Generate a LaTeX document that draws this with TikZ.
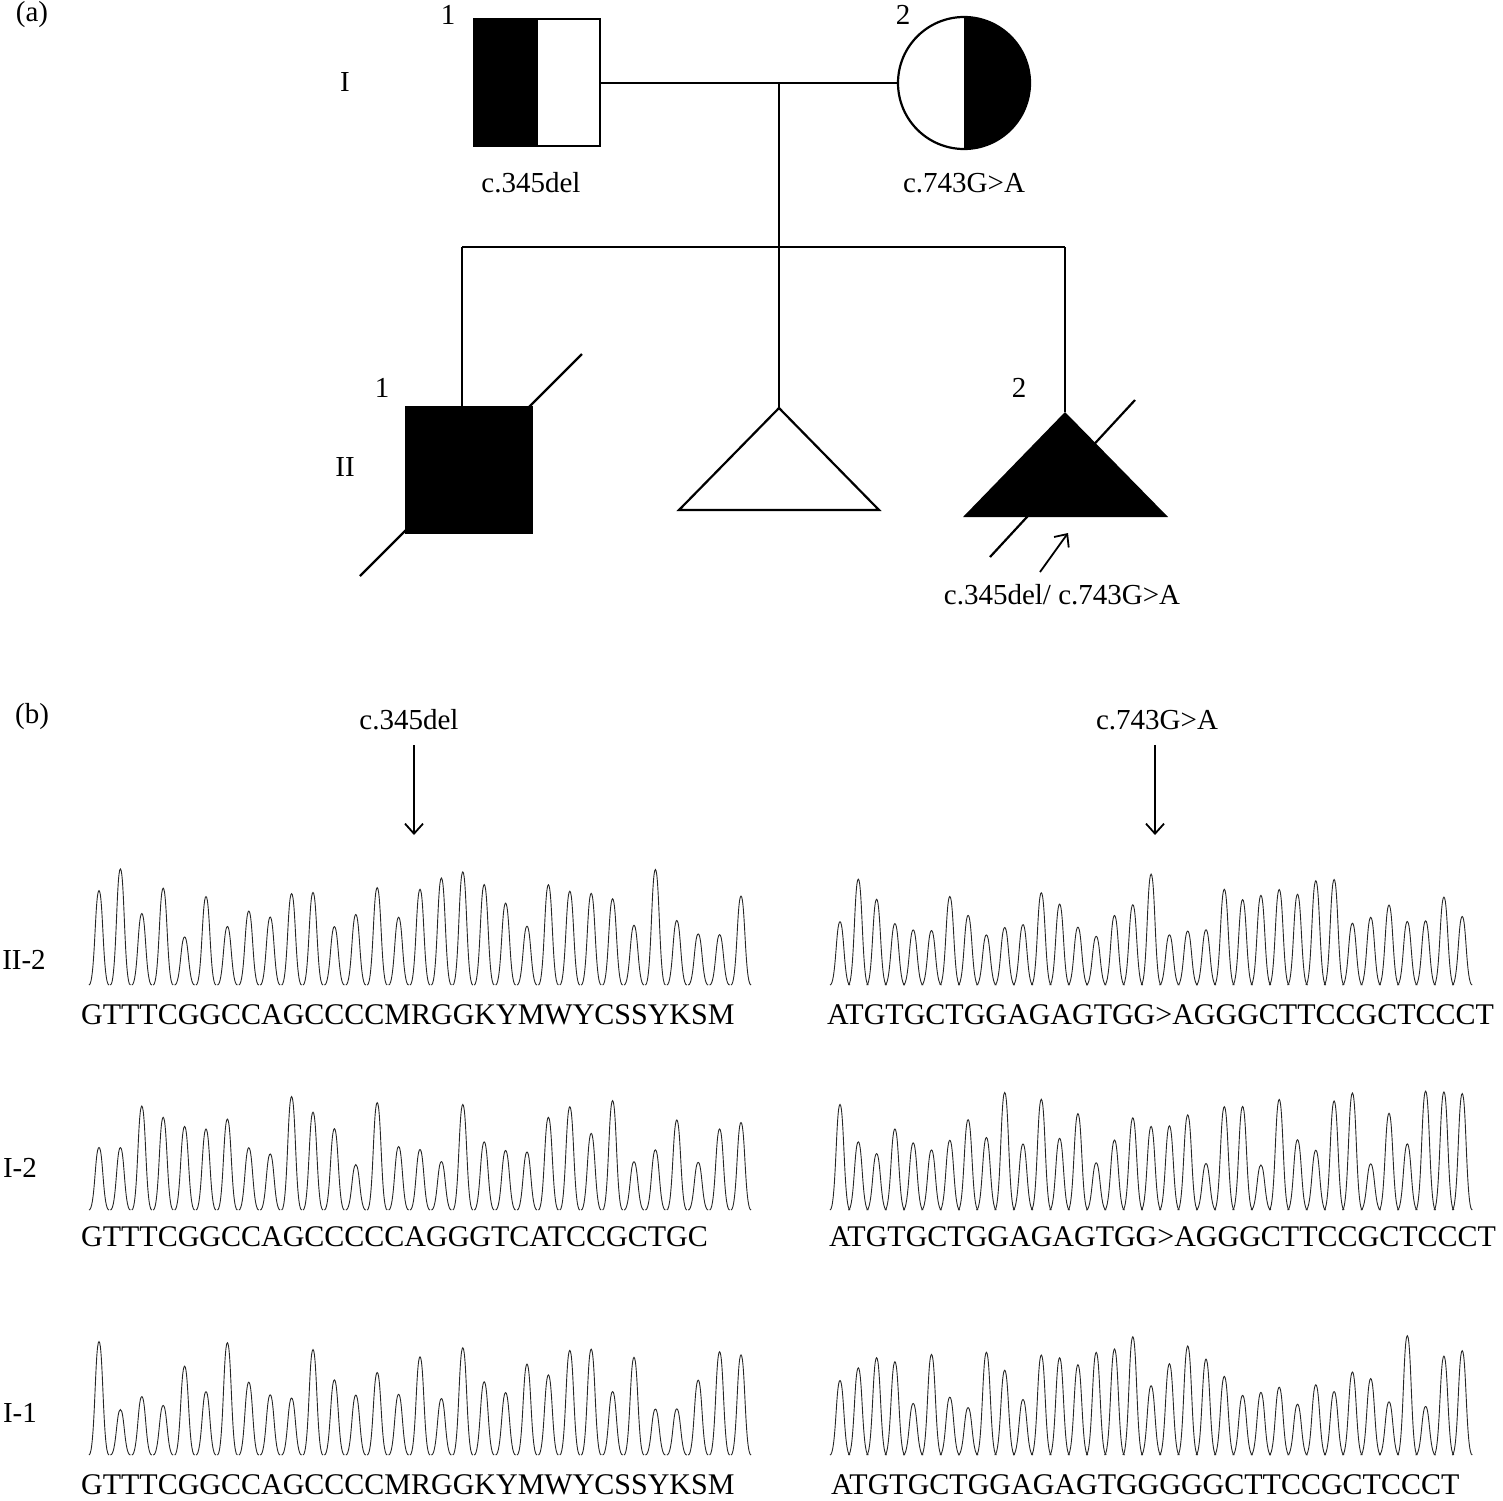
\documentclass[tikz,border=0pt]{standalone}
\usepackage{fontspec}
\setmainfont{Liberation Serif}
\usetikzlibrary{arrows.meta}
\begin{document}
\begin{tikzpicture}[x=1pt,y=-1pt,line width=2.2pt,
  lbl/.style={font=\fontsize{29}{32}\selectfont,inner sep=0pt},
  seq/.style={font=\fontsize{30}{32}\selectfont,inner sep=0pt,anchor=west},
  peak/.style={line width=0.9pt,black!85},
  arr/.style={line width=1.8pt,-{Straight Barb[length=10pt,width=18pt,line width=1.8pt]}}]
\useasboundingbox (0,0) rectangle (1503,1500);
% ---- (a) pedigree
\node[lbl] (a) at (32,15) {(a)};
\node[lbl] (g1) at (345,82) {I};
\node[lbl] (g2) at (345,467) {II};
\node[lbl] (n11) at (448,15) {1};
\node[lbl] (n12) at (903,15) {2};
\node[lbl] (n21) at (382,388) {1};
\node[lbl] (n22) at (1019,388) {2};
\fill (474,19) rectangle (538,146);
\draw (474,19) rectangle (600,146);
\node[minimum size=126pt,inner sep=0pt] (f) at (537,83) {};
\fill (964,17) arc (-90:90:66) -- cycle;
\draw (964,83) circle (66);
\node[circle,minimum size=132pt,inner sep=0pt] (m) at (964,83) {};
\coordinate (mar) at (779,83);
\coordinate (sib) at (779,247);
\draw (f.east) -- (m.west);
\draw (mar) -- (sib);
\draw (462,247) -- (1065,247);
\node[fill,minimum size=128pt,inner sep=0pt] (c1) at (469,470) {};
\draw (462,247) -- (462,406);
\draw (360,576) -- (582,354);
\draw[fill=white,line join=miter] (779,408) -- (679,510) -- (879,510) -- cycle;
\coordinate (c2) at (779,408);
\draw (sib) -- (c2);
\fill (1065,412) -- (963,517) -- (1168,517) -- cycle;
\coordinate (c3) at (1065,412);
\draw (1065,247) -- (c3);
\draw (990,557) -- (1135,400);
\node[lbl] (l1) at (531,183) {c.345del};
\node[lbl] (l2) at (964,183) {c.743G>A};
\node[lbl] (l3) at (1062,595) {c.345del/ c.743G>A};
\coordinate (pa) at (1040,572);
\coordinate (pb) at (1068,533);
\draw[arr] (pa) -- (pb);
% ---- (b)
\node[lbl] (b) at (32,717) {(b)};
\node[lbl] (m1) at (409,720) {c.345del};
\node[lbl] (m2) at (1157,720) {c.743G>A};
\coordinate (t1) at (414,835);
\coordinate (t2) at (1155,835);
\draw[arr] (m1.south -| t1) ++(0,14) -- (t1);
\draw[arr] (m2.south -| t2) ++(0,14) -- (t2);
\node[lbl] (r1) at (24,960) {II-2};
\node[lbl] (r2) at (20,1168) {I-2};
\node[lbl] (r3) at (20,1413) {I-1};
\node[seq] (s1) at (80,1015) {GTTTCGGCCAGCCCCMRGGKYMWYCSSYKSM};
\node[seq] (s2) at (826,1015) {ATGTGCTGGAGAGTGG>AGGGCTTCCGCTCCCT};
\node[seq] (s3) at (80,1237) {GTTTCGGCCAGCCCCCAGGGTCATCCGCTGC};
\node[seq] (s4) at (828,1237) {ATGTGCTGGAGAGTGG>AGGGCTTCCGCTCCCT};
\node[seq] (s5) at (80,1485) {GTTTCGGCCAGCCCCMRGGKYMWYCSSYKSM};
\node[seq] (s6) at (830,1485) {ATGTGCTGGAGAGTGGGGGCTTCCGCTCCCT};
% chromatograms
\pgfmathsetseed{11}
\foreach \bx/\by/\n/\dx in {99/985/30/21.4, 840/985/34/18.3, 99/1210/30/21.4, 840/1210/34/18.3, 99/1455/30/21.4, 840/1455/34/18.3}{
  \foreach \i in {0,...,\n}{
    \pgfmathsetmacro\px{\bx+\i*\dx}
    \pgfmathsetmacro\h{45+75*rnd}
    \draw[peak] (\px-10,\by) .. controls (\px-4,\by) and (\px-4,\by-\h) .. (\px,\by-\h) .. controls (\px+4,\by-\h) and (\px+4,\by) .. (\px+10,\by);
  }
}
\end{tikzpicture}
\end{document}
